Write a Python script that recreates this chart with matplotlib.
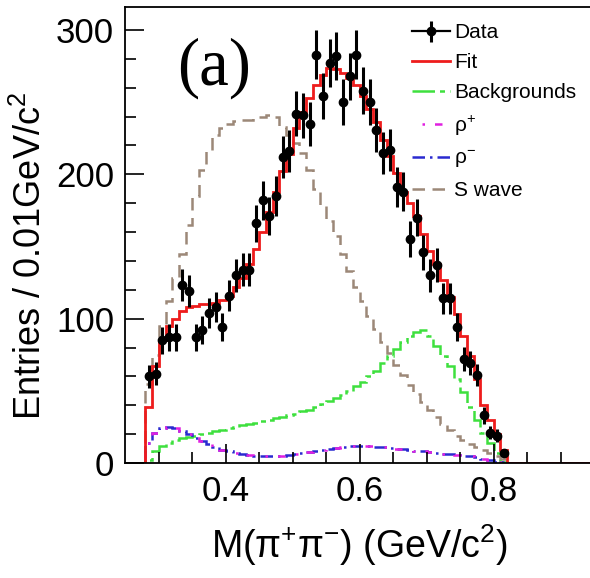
import numpy as np
import matplotlib.pyplot as plt
from matplotlib.lines import Line2D

plt.rcParams['font.family'] = ['Liberation Sans', 'DejaVu Sans']
plt.rcParams['mathtext.default'] = 'regular'

# bin centres of the filled region (GeV/c^2), bin width 0.01
mass = np.round(np.arange(0.285, 0.8151, 0.01), 3)

data = [60, 62, 85, 87, 87, 123, 119, 87, 92, 104, 108, 94, 116, 130, 134, 134,
        166, 182, 171, 185, 212, 216, 242, 241, 235, 283, 254, 277, 282, 250,
        268, 283, 258, 250, 231, 215, 217, 191, 188, 155, 170, 146, 130, 137,
        114, 114, 94, 72, 69, 61, 33, 21, 19, 7]

fit = [39, 67, 85, 95, 100, 105, 108, 109, 110, 110, 111, 113, 116, 122, 128,
       138, 148, 160, 174, 188, 202, 214, 232, 243, 253, 262, 269, 274, 273,
       270, 267, 262, 254, 245, 236, 224, 213, 201, 188, 180, 171, 159, 147,
       138, 127, 115, 103, 88, 74, 58, 40, 30, 20, 9]

backgrounds = [2, 8, 12, 14, 16, 17, 18, 19, 20, 21, 22, 23, 24, 25, 26, 27, 28,
               29, 30, 31, 32, 33, 34, 36, 37, 39, 41, 43, 45, 47, 50, 53, 56, 60,
               64, 69, 74, 79, 84, 88, 91, 92, 88, 81, 74, 67, 58, 49, 39, 30, 21,
               14, 7, 1]

rho_minus = [14, 21, 24, 25, 24, 22, 20, 17, 15, 13, 11, 9, 8, 7, 6, 5.5, 5, 5,
             5, 5, 5, 5.5, 6, 7, 7.5, 8, 9, 10, 10.5, 11, 11.5, 12, 12, 11.5, 11,
             11, 10.5, 10, 9.5, 9, 8.5, 8, 7.5, 7, 6.5, 6, 5.5, 5, 4.5, 4, 3, 2,
             1, 0.5]
rho_plus = list(rho_minus)

s_wave = [55, 75, 95, 112, 128, 145, 165, 185, 203, 217, 227, 232, 235, 237,
          238, 238, 239, 240, 241, 240, 233, 227, 222, 215, 203, 190, 179, 168,
          157, 145, 133, 122, 112, 102, 93, 84, 76, 68, 61, 54, 48, 42, 37, 32,
          27, 23, 19, 16, 13, 11, 9, 7, 5, 3]

x_lo, x_hi, width = 0.25, 0.95, 0.01
edges = np.round(np.arange(x_lo, x_hi + width / 2, width), 3)
first = int(round((mass[0] - width / 2 - x_lo) / width))


def full(vals):
    out = np.zeros(len(edges) - 1)
    out[first:first + len(vals)] = vals
    return out


fig = plt.figure(figsize=(5.9, 5.78), dpi=100)
ax = fig.add_axes([0.2125, 0.199, 0.7945, 0.789])

ax.stairs(full(s_wave), edges, color='#9c8878', lw=1.8, ls=(0, (5, 3)), label='S wave')
ax.stairs(full(backgrounds), edges, color='#3ee03e', lw=1.8, ls=(0, (9, 2, 2, 2)),
          label='Backgrounds')
ax.stairs(full(rho_minus), edges, color='#2a2ad0', lw=1.8, ls=(0, (5, 2, 1, 2)),
          label='ρ$^{-}$')
ax.stairs(full(rho_plus), edges, color='#e020e0', lw=1.8, ls=(4, (3, 5, 1, 4)),
          label='ρ$^{+}$')
ax.stairs(full(fit), edges, color='#ee1c1c', lw=2.0, label='Fit')
eb = ax.errorbar(mass, data, yerr=np.sqrt(data), fmt='o', color='black',
                 ms=6, elinewidth=2.2, capsize=0, label='Data', zorder=5)

ax.set_xlim(x_lo, x_hi)
ax.set_ylim(0, 316)
ax.set_xticks([0.4, 0.6, 0.8])
ax.set_xticks(np.arange(0.3, 0.95, 0.05), minor=True)
ax.set_yticks([0, 100, 200, 300])
ax.set_yticks(np.arange(0, 316, 20), minor=True)
ax.tick_params(which='both', direction='in', labelsize=25, width=1.2)
ax.tick_params(axis='x', which='major', length=14, pad=9)
ax.tick_params(axis='y', which='major', length=14, pad=8)
ax.tick_params(which='minor', length=8)
for s in ax.spines.values():
    s.set_linewidth(1.3)

ax.set_xlabel('M(π$^{+}$π$^{-}$) (GeV/c$^{2}$)', fontsize=27, labelpad=10)
ax.set_ylabel('Entries / 0.01GeV/c$^{2}$', fontsize=26)
ax.yaxis.set_label_coords(-0.163, 0.455)

ax.text(0.19, 0.866, '(a)', transform=ax.transAxes, fontsize=48,
        family=['Liberation Serif', 'DejaVu Serif'], ha='center', va='center')

handles, labels = ax.get_legend_handles_labels()
hmap = dict(zip(labels, handles))
hmap['Data'] = (Line2D([], [], color='black', lw=1.6), eb)
order = ['Data', 'Fit', 'Backgrounds', 'ρ$^{+}$', 'ρ$^{-}$', 'S wave']
ax.legend([hmap[k] for k in order], order, frameon=False, fontsize=15,
          loc='upper left', bbox_to_anchor=(402 / 590, 1 - 13 / 578),
          bbox_transform=fig.transFigure, handlelength=1.8, handletextpad=0.2,
          labelspacing=0.53, borderpad=0)

fig.savefig('out.png', dpi=100)
